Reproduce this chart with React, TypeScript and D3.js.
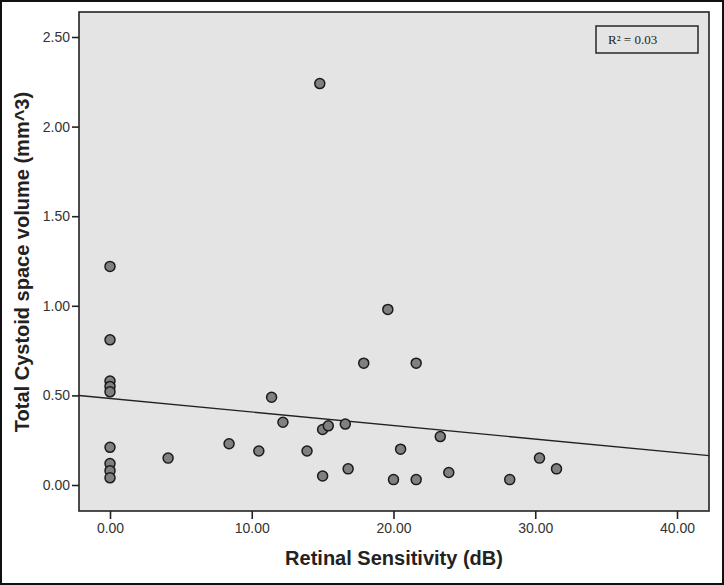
import React, { useEffect, useRef } from 'react';
import * as d3 from 'd3';

// retinal sensitivity (dB) vs total cystoid space volume (mm^3)
const sensitivity = [
  14.8, 0, 0, 0, 0, 0, 0, 0, 0, 0,
  4.1, 8.4, 10.5, 11.4, 12.2, 13.9, 15.0, 15.4, 16.6, 15.0,
  16.8, 17.9, 19.6, 20.0, 20.5, 21.6, 21.6, 23.3, 23.9, 28.2,
  30.3, 31.5,
];
const volume = [
  2.24, 1.22, 0.81, 0.58, 0.55, 0.52, 0.21, 0.12, 0.08, 0.04,
  0.15, 0.23, 0.19, 0.49, 0.35, 0.19, 0.31, 0.33, 0.34, 0.05,
  0.09, 0.68, 0.98, 0.03, 0.2, 0.68, 0.03, 0.27, 0.07, 0.03,
  0.15, 0.09,
];

const xTicks = [0, 10, 20, 30, 40];
const yTicks = [0, 0.5, 1.0, 1.5, 2.0, 2.5];

// fit line
const fitIntercept = 0.483;
const fitSlope = -0.00755;
const rSquaredLabel = 'R² = 0.03';

const W = 724;
const H = 585;

export default function App() {
  const ref = useRef<SVGSVGElement>(null);

  useEffect(() => {
    const svg = d3.select(ref.current);
    svg.selectAll('*').remove();

    const plot = { left: 79, right: 709, top: 12, bottom: 511 };

    const xScale = d3.scaleLinear().domain([0, 40]).range([110, 677]);
    const yScale = d3.scaleLinear().domain([0, 2.5]).range([485, 37]);
    const xMin = xScale.invert(plot.left);
    const xMax = xScale.invert(plot.right);

    // outer frame
    svg
      .append('rect')
      .attr('x', 1)
      .attr('y', 1)
      .attr('width', W - 2)
      .attr('height', H - 2)
      .attr('fill', '#fff')
      .attr('stroke', '#111')
      .attr('stroke-width', 2);

    svg
      .append('rect')
      .attr('x', plot.left)
      .attr('y', plot.top)
      .attr('width', plot.right - plot.left)
      .attr('height', plot.bottom - plot.top)
      .attr('fill', '#e4e4e4')
      .attr('stroke', '#222')
      .attr('stroke-width', 1.6);

    const xAxis = d3
      .axisBottom(xScale)
      .tickValues(xTicks)
      .tickFormat((d) => (d as number).toFixed(2))
      .tickSize(8)
      .tickPadding(4);
    const gx = svg
      .append('g')
      .attr('transform', `translate(0, ${plot.bottom})`)
      .call(xAxis);
    gx.select('.domain').remove();

    const yAxis = d3
      .axisLeft(yScale)
      .tickValues(yTicks)
      .tickFormat((d) => (d as number).toFixed(2))
      .tickSize(7)
      .tickPadding(2);
    const gy = svg
      .append('g')
      .attr('transform', `translate(${plot.left}, 0)`)
      .call(yAxis);
    gy.select('.domain').remove();

    [gx, gy].forEach((g) => {
      g.selectAll('line').attr('stroke', '#222').attr('stroke-width', 1.6);
      g.selectAll('text')
        .attr('fill', '#333')
        .style('font-family', 'Arial, "Liberation Sans", sans-serif')
        .style('font-size', '14px');
    });

    // regression line
    svg
      .append('line')
      .attr('x1', xScale(xMin))
      .attr('y1', yScale(fitIntercept + fitSlope * xMin))
      .attr('x2', xScale(xMax))
      .attr('y2', yScale(fitIntercept + fitSlope * xMax))
      .attr('stroke', '#222')
      .attr('stroke-width', 1.4);

    svg
      .append('g')
      .selectAll('circle')
      .data(sensitivity.map((s, i) => ({ s, v: volume[i] })))
      .enter()
      .append('circle')
      .attr('cx', (d) => xScale(d.s))
      .attr('cy', (d) => yScale(d.v))
      .attr('r', 5)
      .attr('fill', '#808080')
      .attr('stroke', '#1a1a1a')
      .attr('stroke-width', 1.5);

    // R² box
    svg
      .append('rect')
      .attr('x', 596)
      .attr('y', 26)
      .attr('width', 102)
      .attr('height', 27)
      .attr('fill', 'none')
      .attr('stroke', '#333')
      .attr('stroke-width', 1.6);
    svg
      .append('text')
      .attr('x', 608)
      .attr('y', 44)
      .attr('fill', '#222')
      .style('font-family', '"Liberation Serif", "Times New Roman", serif')
      .style('font-size', '13px')
      .text(rSquaredLabel);

    svg
      .append('text')
      .attr('x', 394)
      .attr('y', 565)
      .attr('text-anchor', 'middle')
      .attr('fill', '#222')
      .style('font-family', 'Arial, "Liberation Sans", sans-serif')
      .style('font-size', '20px')
      .style('font-weight', 'bold')
      .text('Retinal Sensitivity (dB)');

    svg
      .append('text')
      .attr('transform', `translate(29, 262) rotate(-90)`)
      .attr('text-anchor', 'middle')
      .attr('fill', '#222')
      .style('font-family', 'Arial, "Liberation Sans", sans-serif')
      .style('font-size', '20px')
      .style('font-weight', 'bold')
      .text('Total Cystoid space volume (mm^3)');
  }, []);

  return (
    <svg
      ref={ref}
      width={W}
      height={H}
      style={{ position: 'absolute', left: 0, top: 0, display: 'block' }}
    />
  );
}
